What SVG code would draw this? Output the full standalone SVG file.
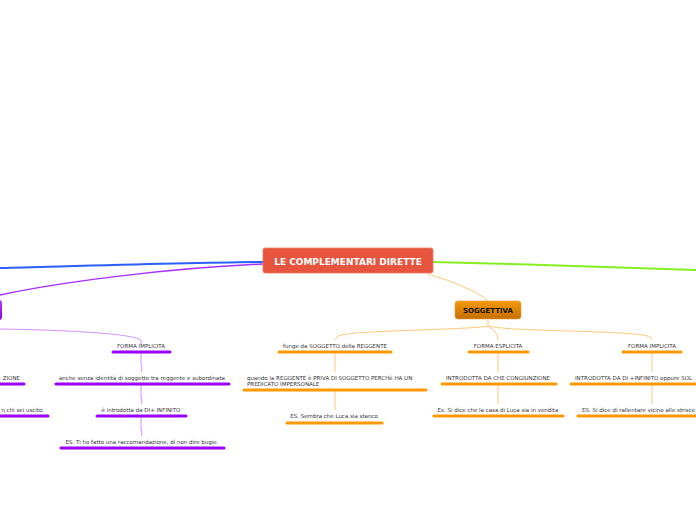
<svg xmlns="http://www.w3.org/2000/svg" width="696" height="520" viewBox="0 0 696 520">
<defs>
<linearGradient id="og" x1="0" y1="0" x2="0" y2="1"><stop offset="0" stop-color="#f59a0c"/><stop offset="1" stop-color="#c46f00"/></linearGradient>
<linearGradient id="pg" x1="0" y1="0" x2="0" y2="1"><stop offset="0" stop-color="#b040ff"/><stop offset="1" stop-color="#8a00e0"/></linearGradient>
</defs>
<style>
.t{font-family:"DejaVu Sans",Verdana,sans-serif;font-size:5.5px;fill:#333;text-anchor:middle}
.tl{text-anchor:start}
.te{text-anchor:end}
.ou{stroke:#ff9900;stroke-width:3;stroke-linecap:round}
.pu{stroke:#9900ff;stroke-width:3;stroke-linecap:round}
.oc{fill:none;stroke:#ffc879;stroke-width:1}
.pc{fill:none;stroke:#d490ff;stroke-width:1}
</style>
<rect width="696" height="520" fill="#fff"/>
<g id="connectors">
<path d="M263,262 C180,263 80,266 0,268" fill="none" stroke="#2a5fff" stroke-width="2"/>
<path d="M263,264 C170,268 60,282 0,295" fill="none" stroke="#a630ff" stroke-width="1.5"/>
<path d="M433,262 C520,264 620,267 696,270" fill="none" stroke="#88ee22" stroke-width="2"/>
<path d="M428,274 C455,282 478,292 488,301" class="oc" stroke="#ffb040"/>
<path d="M0,329 C60,330 130,333 141,340 L141,345" class="pc"/>
<path d="M141,353 L141,365 Q143,368 141,372" class="pc"/>
<path d="M141,385 L141,398 Q143,401 141,404" class="pc"/>
<path d="M141,417 L141,430 Q143,433 141,436" class="pc"/>
<path d="M488,320 L488,326 C470,330 350,330 338,336 L335,340" class="oc"/>
<path d="M488,326 C494,330 498,334 498,340" class="oc"/>
<path d="M488,326 C510,332 640,330 650,337 L652,340" class="oc"/>
<path d="M335,353 L335,372" class="oc"/>
<path d="M335,391 L335,410" class="oc"/>
<path d="M498,353 L498,372" class="oc"/>
<path d="M498,385 L498,404" class="oc"/>
<path d="M652,353 L652,372" class="oc"/>
<path d="M652,385 L652,404" class="oc"/>
</g>
<g id="root">
<rect x="263" y="248" width="170" height="25" rx="2" fill="#e8553e" stroke="#f07a62" stroke-width="0.8"/>
<text x="348" y="265.3" style="font-family:'DejaVu Sans',Verdana,sans-serif;font-size:9px;font-weight:bold;fill:#fff;text-anchor:middle">LE COMPLEMENTARI DIRETTE</text>
</g>
<g id="purple-node">
<rect x="-20" y="300" width="22" height="20" rx="3" fill="url(#pg)"/>
</g>
<g id="soggettiva">
<rect x="455" y="301" width="66" height="18" rx="3" fill="url(#og)" stroke="#e89a40" stroke-width="0.6"/>
<text x="488" y="313.3" style="font-family:'DejaVu Sans',Verdana,sans-serif;font-size:7px;font-weight:bold;fill:#111;text-anchor:middle">SOGGETTIVA</text>
</g>
<g id="p-left1"><text class="t te" x="20" y="380">ZIONE</text><line class="pu" x1="0" y1="384" x2="24" y2="384"/></g>
<g id="p-left2"><text class="t te" x="44" y="412">n chi sei uscito.</text><line class="pu" x1="0" y1="416" x2="48" y2="416"/></g>
<g id="p-forma-implicita"><text class="t" x="141" y="348">FORMA IMPLICITA</text><line class="pu" x1="113" y1="352" x2="170" y2="352"/></g>
<g id="p-anche"><text class="t" x="142" y="380">anche senza identità di soggetto tra reggente e subordinata</text><line class="pu" x1="56" y1="384" x2="229" y2="384"/></g>
<g id="p-introdotta"><text class="t" x="141" y="412">è introdotta da DI+ INFINITO</text><line class="pu" x1="97" y1="416" x2="186" y2="416"/></g>
<g id="p-es"><text class="t" x="142" y="444">ES. Ti ho fatto una raccomandazione, di non dire bugie.</text><line class="pu" x1="61" y1="448" x2="224" y2="448"/></g>
<g id="o-funge"><text class="t" x="335" y="348">funge da SOGGETTO della REGGENTE</text><line class="ou" x1="279" y1="352" x2="391" y2="352"/></g>
<g id="o-quando"><text class="t tl" x="247" y="380">quando la REGGENTE è PRIVA DI SOGGETTO PERCHè HA UN</text><text class="t tl" x="247" y="386">PREDICATO IMPERSONALE</text><line class="ou" x1="244" y1="390" x2="426" y2="390"/></g>
<g id="o-es1"><text class="t" x="334" y="418">ES. Sembra che Luca sia stanco</text><line class="ou" x1="287" y1="423" x2="382" y2="423"/></g>
<g id="o-esplicita"><text class="t" x="498" y="348">FORMA ESPLICITA</text><line class="ou" x1="469" y1="352" x2="528" y2="352"/></g>
<g id="o-che"><text class="t" x="498" y="380">INTRODOTTA DA CHE CONGIUNZIONE</text><line class="ou" x1="442" y1="384" x2="556" y2="384"/></g>
<g id="o-es2"><text class="t" x="498" y="412">Es. Si dice che la casa di Luca sia in vendita</text><line class="ou" x1="434" y1="416" x2="563" y2="416"/></g>
<g id="o-implicita"><text class="t" x="652" y="348">FORMA IMPLICITA</text><line class="ou" x1="623" y1="352" x2="681" y2="352"/></g>
<g id="o-di"><text class="t tl" x="575" y="380">INTRODOTTA DA DI +INFINITO oppure SOL</text><line class="ou" x1="571" y1="384" x2="700" y2="384"/></g>
<g id="o-es3"><text class="t tl" x="582" y="412">ES. Si dice di rallentare vicino alle strisce</text><line class="ou" x1="578" y1="416" x2="700" y2="416"/></g>
</svg>
